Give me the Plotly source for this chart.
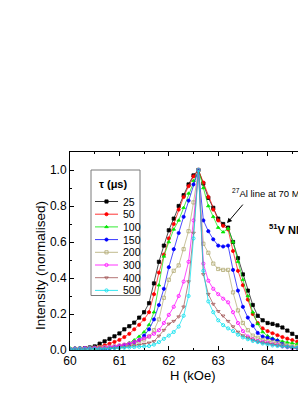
import plotly.graph_objects as go

# ---------------- data ----------------
H_KOE = [60.0, 60.1, 60.2, 60.3, 60.4, 60.5, 60.6, 60.7, 60.8, 60.9,
         61.0, 61.1, 61.2, 61.3, 61.4, 61.5, 61.6, 61.7, 61.8, 61.9,
         62.0, 62.1, 62.2, 62.3, 62.4, 62.5, 62.6, 62.7, 62.8, 62.9,
         63.0, 63.1, 63.2, 63.3, 63.4, 63.5, 63.6, 63.7, 63.8, 63.9,
         64.0, 64.1, 64.2, 64.3, 64.4, 64.5, 64.6, 64.7, 64.8]

TAU_LABELS = ["25", "50", "100", "150", "200", "300", "400", "500"]

I_25 = [0.003, 0.004, 0.006, 0.010, 0.014, 0.020, 0.035, 0.048, 0.062, 0.076,
        0.092, 0.115, 0.132, 0.152, 0.180, 0.210, 0.260, 0.370, 0.490, 0.580,
        0.665, 0.730, 0.800, 0.860, 0.920, 0.970, 1.000, 0.925, 0.845, 0.790,
        0.730, 0.700, 0.680, 0.600, 0.510, 0.420, 0.330, 0.250, 0.190, 0.165,
        0.150, 0.145, 0.137, 0.125, 0.108, 0.090, 0.072, 0.055, 0.045]
I_50 = [0.000, 0.002, 0.004, 0.006, 0.008, 0.012, 0.018, 0.026, 0.035, 0.045,
        0.056, 0.072, 0.090, 0.115, 0.140, 0.170, 0.210, 0.310, 0.430, 0.530,
        0.620, 0.700, 0.780, 0.850, 0.910, 0.965, 1.000, 0.930, 0.850, 0.780,
        0.720, 0.690, 0.670, 0.550, 0.440, 0.360, 0.280, 0.200, 0.150, 0.120,
        0.105, 0.093, 0.082, 0.072, 0.063, 0.055, 0.046, 0.038, 0.030]
I_100 = [0.010, 0.012, 0.010, 0.008, 0.010, 0.008, 0.006, 0.008, 0.012, 0.016,
         0.022, 0.030, 0.040, 0.055, 0.075, 0.100, 0.140, 0.210, 0.360, 0.520,
         0.600, 0.670, 0.720, 0.790, 0.870, 0.940, 1.000, 0.900, 0.800, 0.740,
         0.680, 0.655, 0.675, 0.600, 0.490, 0.390, 0.300, 0.210, 0.145, 0.100,
         0.078, 0.065, 0.055, 0.048, 0.042, 0.038, 0.033, 0.028, 0.022]
I_150 = [0.005, 0.008, 0.010, 0.010, 0.012, 0.010, 0.006, 0.004, 0.008, 0.015,
         0.020, 0.026, 0.032, 0.042, 0.055, 0.080, 0.115, 0.170, 0.250, 0.340,
         0.460, 0.560, 0.650, 0.740, 0.830, 0.920, 1.000, 0.720, 0.660, 0.615,
         0.580, 0.575, 0.580, 0.445, 0.330, 0.240, 0.180, 0.135, 0.095, 0.075,
         0.068, 0.060, 0.052, 0.035, 0.020, 0.015, 0.012, 0.010, 0.010]
I_200 = [0.005, 0.006, 0.008, 0.008, 0.010, 0.012, 0.014, 0.016, 0.018, 0.020,
         0.024, 0.028, 0.033, 0.040, 0.048, 0.058, 0.075, 0.110, 0.170, 0.290,
         0.390, 0.440, 0.470, 0.560, 0.660, 0.820, 1.000, 0.590, 0.540, 0.480,
         0.450, 0.445, 0.445, 0.320, 0.220, 0.150, 0.110, 0.080, 0.068, 0.056,
         0.050, 0.045, 0.038, 0.030, 0.025, 0.020, 0.018, 0.015, 0.012]
I_300 = [0.005, 0.008, 0.006, 0.010, 0.008, 0.012, 0.010, 0.015, 0.018, 0.020,
         0.025, 0.030, 0.036, 0.045, 0.055, 0.065, 0.075, 0.090, 0.110, 0.150,
         0.195, 0.240, 0.300, 0.380, 0.490, 0.720, 1.000, 0.480, 0.385, 0.340,
         0.310, 0.285, 0.265, 0.210, 0.150, 0.105, 0.075, 0.060, 0.050, 0.045,
         0.040, 0.032, 0.028, 0.020, 0.015, 0.010, 0.010, 0.008, 0.006]
I_400 = [0.003, 0.004, 0.005, 0.004, 0.006, 0.005, 0.007, 0.006, 0.008, 0.009,
         0.010, 0.015, 0.020, 0.024, 0.028, 0.033, 0.040, 0.048, 0.078, 0.110,
         0.145, 0.160, 0.185, 0.240, 0.380, 0.650, 1.000, 0.420, 0.310, 0.255,
         0.215, 0.190, 0.160, 0.130, 0.100, 0.080, 0.068, 0.056, 0.046, 0.040,
         0.035, 0.030, 0.025, 0.020, 0.016, 0.012, 0.010, 0.008, 0.006]
I_500 = [0.005, 0.004, 0.006, 0.005, 0.007, 0.006, 0.008, 0.007, 0.009, 0.010,
         0.011, 0.012, 0.014, 0.016, 0.018, 0.020, 0.022, 0.030, 0.044, 0.062,
         0.080, 0.100, 0.130, 0.190, 0.300, 0.620, 1.000, 0.440, 0.270, 0.210,
         0.165, 0.138, 0.120, 0.105, 0.085, 0.070, 0.060, 0.050, 0.044, 0.036,
         0.030, 0.025, 0.022, 0.020, 0.017, 0.014, 0.012, 0.010, 0.008]

SERIES = [I_25, I_50, I_100, I_150, I_200, I_300, I_400, I_500]

X_TICKS = [60, 61, 62, 63, 64]
Y_TICKS = [0.0, 0.2, 0.4, 0.6, 0.8, 1.0]

# ---------------- styling ----------------
COLORS = ["#000000", "#ff0000", "#00e600", "#0000ff",
          "#b0a870", "#ff00ff", "#a05050", "#00e0ee"]
SYMBOLS = ["square", "circle", "triangle-up", "circle",
           "square-open", "circle-open", "triangle-down-open", "circle-open"]
FONT = "Liberation Sans, Arial, sans-serif"
MSIZE = 3.2

# The page body has an 8 px margin: screen = figure + 8.
# The figure is sized so the page never overflows the 306x396 window.
OFF = 8
W, H = 298, 380                               # figure size
PLOT_L, PLOT_T, PLOT_B, PLOT_R = 70, 152, 350, 306   # plot box, screen px
L = PLOT_L - OFF
T = PLOT_T - OFF
B = H - (PLOT_B - OFF)
R = W - (PLOT_R - OFF)
PW = PLOT_R - PLOT_L
PH = PLOT_B - PLOT_T
X_MAX = 60 + PW / 49.4                        # axis is cut at the window edge


def pxx(xs):
    return (xs - PLOT_L) / PW


def pxy(ys):
    return (PLOT_B - ys) / PH


fig = go.Figure()

for lab, ys, col, sym in zip(TAU_LABELS, SERIES, COLORS, SYMBOLS):
    fig.add_trace(go.Scatter(
        x=H_KOE, y=ys, mode="lines+markers", name=lab, showlegend=False,
        line=dict(color=col, width=0.7),
        marker=dict(symbol=sym, size=MSIZE, color=col, line=dict(color=col, width=0.8)),
    ))

annotations = []
shapes = []

# ---- hand-built legend (Origin style, tight spacing), screen-px axes x2/y2 ----
LEG_X0, LEG_X1, LEG_Y0, LEG_Y1 = 91, 140, 170, 295.5
shapes.append(dict(type="rect", xref="x2", yref="y2", x0=LEG_X0, x1=LEG_X1,
                   y0=LEG_Y0, y1=LEG_Y1, line=dict(color="#7a7a7a", width=1),
                   fillcolor="rgba(0,0,0,0)", layer="below"))
annotations.append(dict(xref="x2", yref="y2", x=112.5, y=184, text="<b>τ (μs)</b>",
                        showarrow=False, xanchor="center", yanchor="middle",
                        font=dict(family=FONT, size=11, color="black")))
for i, (lab, col, sym) in enumerate(zip(TAU_LABELS, COLORS, SYMBOLS)):
    yy = 201.5 + 12.7 * i
    fig.add_trace(go.Scatter(x=[95, 118], y=[yy, yy], xaxis="x2", yaxis="y2",
                             mode="lines", showlegend=False, hoverinfo="skip",
                             line=dict(color=col, width=0.8)))
    fig.add_trace(go.Scatter(x=[106.5], y=[yy], xaxis="x2", yaxis="y2",
                             mode="markers", showlegend=False, hoverinfo="skip",
                             marker=dict(symbol=sym, size=MSIZE, color=col,
                                         line=dict(color=col, width=0.8))))
    annotations.append(dict(xref="x2", yref="y2", x=120.5, y=yy, text=lab,
                            showarrow=False, xanchor="left", yanchor="middle",
                            font=dict(family=FONT, size=10.5, color="black")))

# ---- axis titles ----
annotations.append(dict(xref="paper", yref="paper", x=pxx(40), y=pxy(266),
                        text="Intensity (normalised)", textangle=-90, showarrow=False,
                        xanchor="center", yanchor="middle",
                        font=dict(family=FONT, size=13.5, color="black")))
annotations.append(dict(xref="paper", yref="paper", x=pxx(193), y=pxy(375),
                        text="H (kOe)", showarrow=False, xanchor="center", yanchor="middle",
                        font=dict(family=FONT, size=13, color="black")))

# ---- text labels ----
annotations.append(dict(xref="paper", yref="paper", x=pxx(230), y=pxy(193),
                        text="<sup>27</sup>Al line at 70 MHz", showarrow=False,
                        xanchor="left", yanchor="middle",
                        font=dict(family=FONT, size=9.5, color="black")))
annotations.append(dict(xref="x", yref="y", x=63.18, y=0.705, text="",
                        showarrow=True, arrowhead=2, arrowsize=1, arrowwidth=1,
                        arrowcolor="black", ax=17, ay=-20, standoff=0))
annotations.append(dict(xref="paper", yref="paper", x=pxx(267), y=pxy(229),
                        text="<b><sup>51</sup>V NMR</b>", showarrow=False,
                        xanchor="left", yanchor="middle",
                        font=dict(family=FONT, size=11, color="black")))

fig.update_layout(
    width=W, height=H, autosize=False,
    margin=dict(l=L, r=R, t=T, b=B, pad=0),
    paper_bgcolor="white", plot_bgcolor="white",
    font=dict(family=FONT, size=12, color="black"),
    showlegend=False,
    xaxis=dict(range=[60, X_MAX], tickvals=X_TICKS, ticktext=[str(v) for v in X_TICKS],
               ticks="inside", ticklen=4, tickwidth=1, tickcolor="black",
               minor=dict(dtick=0.5, ticks="inside", ticklen=2, tickcolor="black"),
               showline=True, linecolor="black", linewidth=1, mirror="allticks",
               showgrid=False, zeroline=False,
               tickfont=dict(family=FONT, size=12, color="black")),
    yaxis=dict(range=[0, 1.1], tickvals=Y_TICKS, tickformat=".1f",
               ticks="inside", ticklen=4, tickwidth=1, tickcolor="black",
               minor=dict(dtick=0.1, ticks="inside", ticklen=2, tickcolor="black"),
               showline=True, linecolor="black", linewidth=1, mirror=False,
               showgrid=False, zeroline=False,
               tickfont=dict(family=FONT, size=12, color="black")),
    xaxis2=dict(overlaying="x", range=[PLOT_L, PLOT_R], visible=False, showgrid=False),
    yaxis2=dict(overlaying="y", range=[PLOT_B, PLOT_T], visible=False, showgrid=False),
    annotations=annotations,
    shapes=shapes,
)

fig.write_html("out.html")
